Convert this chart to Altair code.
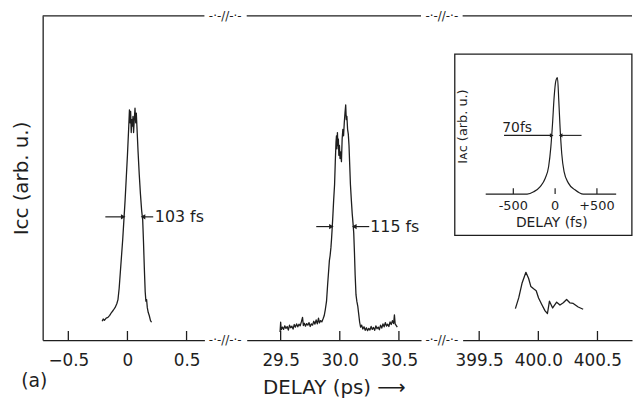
import altair as alt
import pandas as pd

# ---------------- data ----------------
P1_DELAY = [-0.214, -0.205, -0.195, -0.180, -0.165, -0.150, -0.135, -0.120, -0.105, -0.090,
            -0.080, -0.070, -0.060, -0.050, -0.040, -0.030, -0.020, -0.010, 0.000, 0.010,
            0.017, 0.022, 0.027, 0.032, 0.037, 0.042, 0.047, 0.052, 0.058, 0.064,
            0.070, 0.075, 0.080, 0.090, 0.100, 0.110, 0.120, 0.129, 0.136, 0.143,
            0.150, 0.156, 0.162, 0.168, 0.176, 0.185, 0.195, 0.204]
P1_SIGNAL = [5.8, 6.5, 6.1, 6.8, 7.0, 7.6, 8.5, 9.2, 10.0, 11.2,
             12.5, 16, 21, 26, 31, 37, 43, 50, 57, 65,
             71, 67, 70.5, 64, 68, 66, 69, 64, 68, 71.5,
             67, 70, 66, 58, 51, 45, 40, 37, 30, 22,
             15, 12, 12.5, 10, 8.5, 7.5, 6.0, 5.5]

P2_DELAY = [29.495, 29.500, 29.505, 29.515, 29.525, 29.535, 29.545, 29.555, 29.565, 29.575,
            29.585, 29.595, 29.605, 29.615, 29.625, 29.635, 29.645, 29.655, 29.665, 29.675,
            29.685, 29.692, 29.700, 29.710, 29.720, 29.730, 29.740, 29.750, 29.760, 29.770,
            29.780, 29.790, 29.800, 29.810, 29.820, 29.828, 29.838, 29.848, 29.858, 29.868,
            29.878, 29.888, 29.897, 29.905, 29.912, 29.918, 29.925, 29.930, 29.935, 29.941,
            29.948, 29.956, 29.962, 29.968, 29.972, 29.976, 29.980, 29.984, 29.988, 29.992,
            29.997, 30.002, 30.008, 30.014, 30.020, 30.026, 30.032, 30.038, 30.044, 30.050,
            30.055, 30.060, 30.066, 30.072, 30.078, 30.084, 30.090, 30.098, 30.105, 30.112,
            30.118, 30.124, 30.130, 30.137, 30.144, 30.152, 30.160, 30.168, 30.176, 30.185,
            30.195, 30.205, 30.215, 30.225, 30.235, 30.245, 30.255, 30.265, 30.275, 30.285,
            30.295, 30.305, 30.315, 30.325, 30.335, 30.345, 30.355, 30.365, 30.375, 30.385,
            30.395, 30.405, 30.415, 30.425, 30.435, 30.445, 30.455, 30.462, 30.468, 30.475,
            30.486]
P2_SIGNAL = [2.5, 5.5, 3.2, 4.0, 3.3, 4.4, 3.6, 4.2, 3.1, 4.6,
             3.8, 4.3, 3.4, 4.8, 4.0, 5.0, 4.1, 4.9, 4.4, 5.6,
             7.0, 4.5, 5.2, 4.3, 5.1, 4.6, 5.4, 4.2, 5.0, 4.6,
             5.8, 4.9, 6.2, 5.0, 6.8, 5.3, 6.0, 5.6, 6.5, 7.5,
             9.5, 12, 17, 21, 24.5, 26, 28.5, 31, 34, 38,
             43, 48, 55, 61, 63, 59, 64, 60, 62, 57,
             60, 56, 58, 55, 62, 65, 63, 67, 70, 72.5,
             68, 69, 65, 63.5, 60, 54, 48, 43, 39, 36,
             33, 27, 20, 14, 12, 10.5, 8, 5.5, 4, 4.6,
             3.4, 4.1, 3.0, 3.8, 2.9, 3.6, 3.1, 4.2, 3.3, 3.9,
             3.0, 4.4, 3.5, 4.0, 3.2, 4.6, 3.7, 5.0, 4.1, 5.4,
             4.3, 4.9, 4.2, 5.6, 4.8, 6.0, 5.1, 7.8, 5.0, 4.6,
             4.0]

P3_DELAY = [399.806, 399.834, 399.862, 399.895, 399.918, 399.937, 399.960, 399.982, 400.002, 400.029,
            400.057, 400.077, 400.094, 400.121, 400.155, 400.183, 400.211, 400.239, 400.266, 400.295,
            400.337, 400.379]
P3_SIGNAL = [9.7, 13, 17.5, 20.9, 19, 16.5, 15.8, 15.2, 13, 11,
             9, 8.2, 12, 9.9, 11.7, 10.8, 11.5, 12.5, 11.5, 11.3,
             10.2, 9.5]

INSET_DELAY = [-830, -335, -256, -178, -118, -78, -51, -31, -12, 8, 28, 44, 59, 79, 107, 159, 237, 337, 730]
INSET_SIGNAL = [0, 0, 2, 6.5, 13.6, 23.5, 40.5, 60.4, 83, 97, 100, 80, 57.5, 34.9, 19.2, 9.4, 3.7, 0, 0]

P1_TICKS = [-0.5, 0.0, 0.5]
P2_TICKS = [29.5, 30.0, 30.5]
P3_TICKS = [399.5, 400.0, 400.5]
INSET_TICKS = [-500, 0, 500]
INSET_TICK_LABELS = ["-500", "0", "+500"]

# FWHM markers: level, (tail, head) of left arrow, (tail, head) of right arrow, label x, label
P1_FWHM = (38, (-0.187, -0.036), (0.218, 0.132), 0.232, "103 fs")
P2_FWHM = (35, (29.801, 29.929), (30.249, 30.123), 30.258, "115 fs")
INSET_FWHM = (50.4, (-611, -41), (316, 66), -454, 57, "70fs")

Y_TITLE = "I\u1d04\u1d04 (arb. u.)"
X_TITLE = "DELAY (ps) \u27f6"
INSET_X_TITLE = "DELAY (fs)"
INSET_Y_TITLE = "I\u1d00\u1d04 (arb. u.)"
PANEL_TAG = "(a)"

# ---------------- layout / style ----------------
FONT = "DejaVu Sans"
INK = "#1e1e1e"
H = 327.4
W1, W2, W3 = 163.3, 176, 171
GAP = 42
D1 = [-0.717, 0.651]
D2 = [29.213, 30.687]
D3 = [399.36, 400.792]
BREAK = "-\u00b7-//-\u00b7-"
TICK_LEN = 2.8


def main_panel(delay, signal, domain, width, ticks, label_expr, y_axis, x_title, fwhm=None,
               break_right=True, tag=False):
    xs = alt.Scale(domain=domain, nice=False, zero=False)
    ys = alt.Scale(domain=[0, 100], nice=False, zero=False)
    xaxis = alt.Axis(values=ticks, labelExpr=label_expr, ticks=False, tickSize=0, grid=False,
                     domainColor=INK, domainWidth=1.3, labelFont=FONT, labelFontSize=17,
                     labelColor=INK, labelPadding=13, labelOverlap=False, labelFlush=False,
                     titleFont=FONT, titleFontSize=20, titleFontWeight="normal",
                     titleColor=INK, titlePadding=9)
    layers = []
    layers.append(
        alt.Chart(pd.DataFrame({"delay": delay, "signal": signal}))
        .mark_line(color=INK, strokeWidth=1.3, strokeJoin="round")
        .encode(x=alt.X("delay:Q", scale=xs, axis=xaxis, title=x_title),
                y=alt.Y("signal:Q", scale=ys, axis=y_axis))
    )
    layers.append(
        alt.Chart(pd.DataFrame({"t": ticks, "y0": [0] * len(ticks), "y1": [TICK_LEN] * len(ticks)}))
        .mark_rule(color=INK, strokeWidth=1.3)
        .encode(x=alt.X("t:Q", scale=xs, axis=None), y=alt.Y("y0:Q", scale=ys, axis=None),
                y2="y1:Q")
    )
    layers.append(
        alt.Chart(pd.DataFrame({"a": [domain[0]], "b": [domain[1]]}))
        .mark_rule(color=INK, strokeWidth=1.3)
        .encode(x=alt.X("a:Q", scale=xs, axis=None), x2="b:Q", y=alt.value(0))
    )
    if fwhm is not None:
        lvl, (lt, lh), (rt, rh), lx, text = fwhm
        layers.append(
            alt.Chart(pd.DataFrame({"x0": [lt, rt], "x1": [lh, rh], "lvl": [lvl, lvl]}))
            .mark_rule(color=INK, strokeWidth=1.2)
            .encode(x=alt.X("x0:Q", scale=xs, axis=None), x2="x1:Q",
                    y=alt.Y("lvl:Q", scale=ys, axis=None))
        )
        layers.append(
            alt.Chart(pd.DataFrame({"x": [lh, rh], "lvl": [lvl, lvl],
                                    "shape": ["triangle-right", "triangle-left"]}))
            .mark_point(filled=True, size=28, color=INK, opacity=1)
            .encode(x=alt.X("x:Q", scale=xs, axis=None), y=alt.Y("lvl:Q", scale=ys, axis=None),
                    shape=alt.Shape("shape:N", scale=None))
        )
        layers.append(
            alt.Chart(pd.DataFrame({"x": [lx], "lvl": [lvl], "t": [text]}))
            .mark_text(align="left", baseline="middle", font=FONT, fontSize=16, color=INK)
            .encode(x=alt.X("x:Q", scale=xs, axis=None), y=alt.Y("lvl:Q", scale=ys, axis=None),
                    text="t:N")
        )
    if break_right:
        for yy in (0, H):
            layers.append(
                alt.Chart(pd.DataFrame({"s": [BREAK]}))
                .mark_text(align="center", baseline="middle", font=FONT, fontSize=12, color=INK)
                .encode(text="s:N", x=alt.value(width + GAP / 2), y=alt.value(yy))
            )
    if tag:
        layers.append(
            alt.Chart(pd.DataFrame({"s": [PANEL_TAG]}))
            .mark_text(align="left", baseline="middle", font=FONT, fontSize=19, color=INK)
            .encode(text="s:N", x=alt.value(-21.7), y=alt.value(H + 41))
        )
    return layers


y_axis_main = alt.Axis(title=Y_TITLE, ticks=False, labels=False, grid=False, domainColor=INK,
                       domainWidth=1.3, titleFont=FONT, titleFontSize=20, titleFontWeight="normal",
                       titleColor=INK, titlePadding=11)

p1 = alt.layer(*main_panel(P1_DELAY, P1_SIGNAL, D1, W1, P1_TICKS,
                           "datum.value == 0 ? '0' : format(datum.value, '.1f')",
                           y_axis_main, None, fwhm=P1_FWHM, tag=True)) \
    .resolve_scale(x="independent", y="independent").properties(width=W1, height=H)
p2 = alt.layer(*main_panel(P2_DELAY, P2_SIGNAL, D2, W2, P2_TICKS, "format(datum.value, '.1f')",
                           None, X_TITLE, fwhm=P2_FWHM)) \
    .resolve_scale(x="independent", y="independent").properties(width=W2, height=H)

# inset (own scales inside third panel)
xi = alt.Scale(domain=[-830, 730], range=[23.3, 155], nice=False, zero=False)
yi = alt.Scale(domain=[0, 100], range=[180, 62.4], nice=False, zero=False)
ilvl, (ilt, ilh), (irt, irh), ilx, ily, itext = INSET_FWHM
n_it = len(INSET_TICKS)
inset = [
    alt.Chart(pd.DataFrame({"x0": [-1200], "x1": [918], "y0": [-35.5], "y1": [120.2]}))
    .mark_rect(fillOpacity=0, stroke=INK, strokeWidth=1.3)
    .encode(x=alt.X("x0:Q", scale=xi, axis=None), x2="x1:Q",
            y=alt.Y("y0:Q", scale=yi, axis=None), y2="y1:Q"),
    alt.Chart(pd.DataFrame({"fs": INSET_DELAY, "ac": INSET_SIGNAL}))
    .mark_line(color=INK, strokeWidth=1.2, interpolate="monotone")
    .encode(x=alt.X("fs:Q", scale=xi, axis=None), y=alt.Y("ac:Q", scale=yi, axis=None)),
    alt.Chart(pd.DataFrame({"t": INSET_TICKS, "y0": [0] * n_it, "y1": [5] * n_it}))
    .mark_rule(color=INK, strokeWidth=1.2)
    .encode(x=alt.X("t:Q", scale=xi, axis=None), y=alt.Y("y0:Q", scale=yi, axis=None), y2="y1:Q"),
    alt.Chart(pd.DataFrame({"t": INSET_TICKS, "y0": [0] * n_it, "lab": INSET_TICK_LABELS}))
    .mark_text(align="center", baseline="middle", dy=12.5, font=FONT, fontSize=13, color=INK)
    .encode(x=alt.X("t:Q", scale=xi, axis=None), y=alt.Y("y0:Q", scale=yi, axis=None), text="lab:N"),
    alt.Chart(pd.DataFrame({"x": [-40], "y0": [0], "s": [INSET_X_TITLE]}))
    .mark_text(align="center", baseline="middle", dy=29.5, font=FONT, fontSize=14, color=INK)
    .encode(x=alt.X("x:Q", scale=xi, axis=None), y=alt.Y("y0:Q", scale=yi, axis=None), text="s:N"),
    alt.Chart(pd.DataFrame({"x": [-1106], "y": [58], "s": [INSET_Y_TITLE]}))
    .mark_text(align="center", baseline="middle", angle=270, font=FONT, fontSize=13, color=INK)
    .encode(x=alt.X("x:Q", scale=xi, axis=None), y=alt.Y("y:Q", scale=yi, axis=None), text="s:N"),
    alt.Chart(pd.DataFrame({"x0": [ilt, irt], "x1": [ilh, irh], "lvl": [ilvl, ilvl]}))
    .mark_rule(color=INK, strokeWidth=1.1)
    .encode(x=alt.X("x0:Q", scale=xi, axis=None), x2="x1:Q", y=alt.Y("lvl:Q", scale=yi, axis=None)),
    alt.Chart(pd.DataFrame({"x": [ilh, irh], "lvl": [ilvl, ilvl],
                            "shape": ["triangle-right", "triangle-left"]}))
    .mark_point(filled=True, size=18, color=INK, opacity=1)
    .encode(x=alt.X("x:Q", scale=xi, axis=None), y=alt.Y("lvl:Q", scale=yi, axis=None),
            shape=alt.Shape("shape:N", scale=None)),
    alt.Chart(pd.DataFrame({"x": [ilx], "y": [ily], "s": [itext]}))
    .mark_text(align="center", baseline="middle", font=FONT, fontSize=14, color=INK)
    .encode(x=alt.X("x:Q", scale=xi, axis=None), y=alt.Y("y:Q", scale=yi, axis=None), text="s:N"),
]

p3_layers = main_panel(P3_DELAY, P3_SIGNAL, D3, W3, P3_TICKS, "format(datum.value, '.1f')",
                       None, None, break_right=False)
p3 = alt.layer(*p3_layers, *inset).resolve_scale(x="independent", y="independent") \
    .properties(width=W3, height=H)

chart = alt.hconcat(p1, p2, p3, spacing=GAP, bounds="flush").properties(
    padding={"left": 4, "top": 0, "right": 0, "bottom": 0}
).configure_view(stroke=None)

chart.save("out.html", embed_options={"renderer": "svg", "actions": False})
